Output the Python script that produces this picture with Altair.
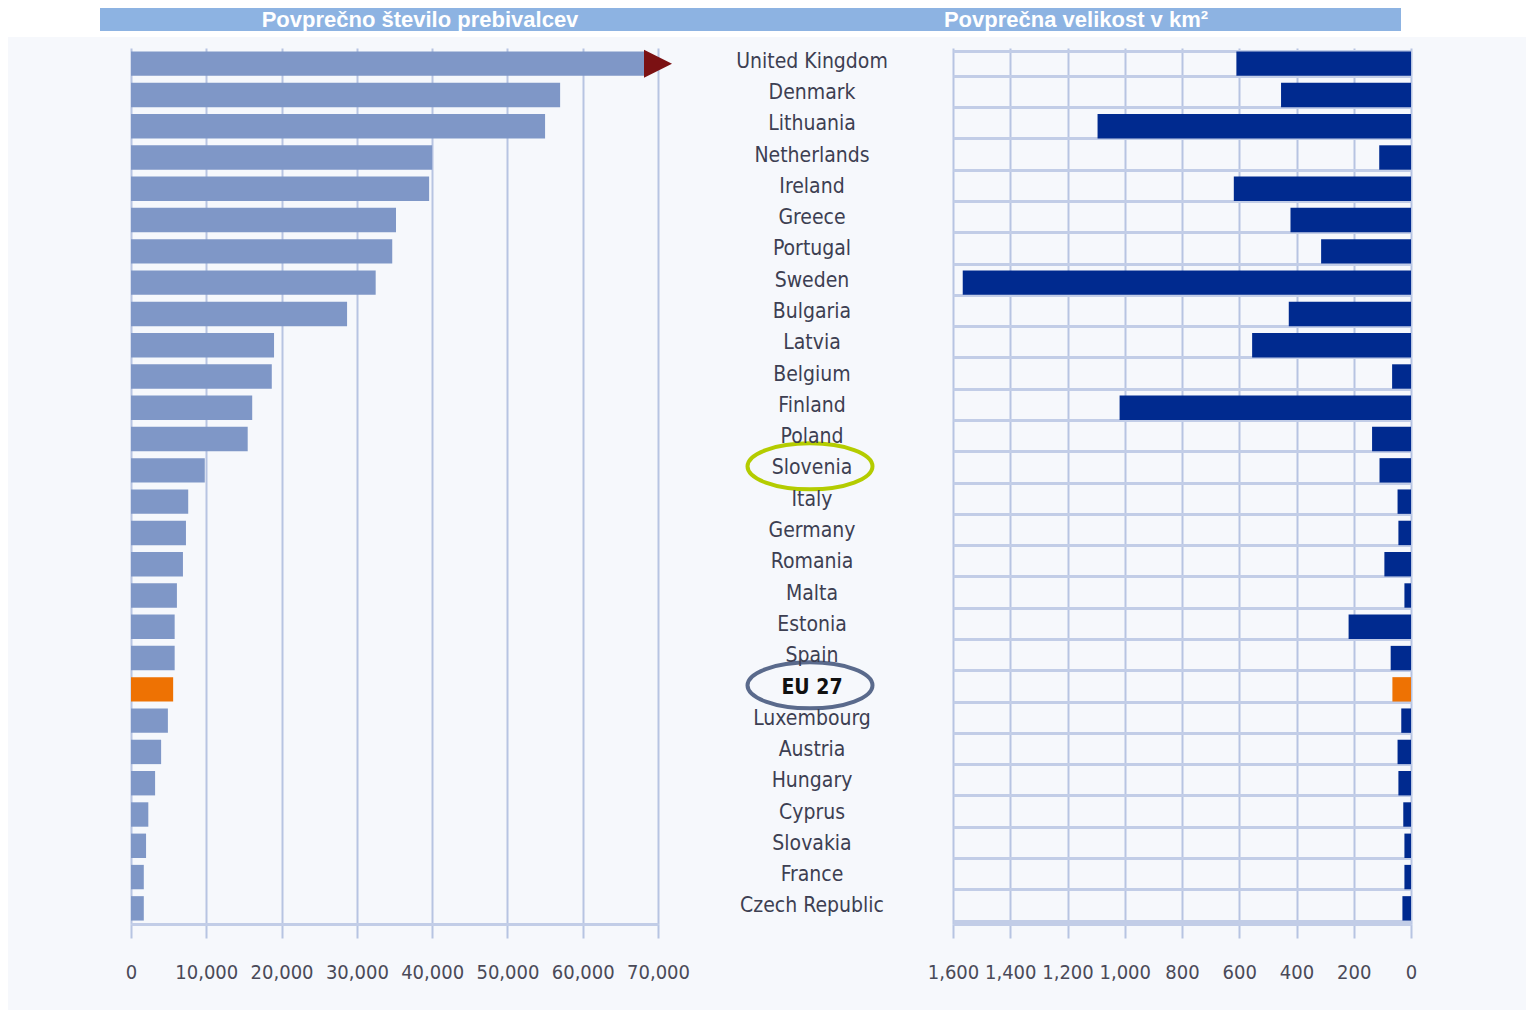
import altair as alt
import pandas as pd

countries = ["United Kingdom", "Denmark", "Lithuania", "Netherlands", "Ireland", "Greece",
             "Portugal", "Sweden", "Bulgaria", "Latvia", "Belgium", "Finland", "Poland",
             "Slovenia", "Italy", "Germany", "Romania", "Malta", "Estonia", "Spain", "EU 27",
             "Luxembourg", "Austria", "Hungary", "Cyprus", "Slovakia", "France", "Czech Republic"]
population = [68300, 57000, 55000, 40000, 39600, 35200, 34700, 32500, 28700, 19000, 18700,
              16100, 15500, 9800, 7600, 7300, 6900, 6100, 5800, 5800, 5600, 4900, 4000,
              3200, 2300, 2000, 1700, 1700]
area_km2 = [610, 454, 1095, 111, 619, 421, 314, 1566, 427, 555, 66, 1018, 136, 110, 47, 44,
            93, 23, 218, 71, 65, 34, 47, 44, 27, 23, 23, 30]
titles = ["Povprečno število prebivalcev", "Povprečna velikost v km²"]
pop_ticks = [0, 10000, 20000, 30000, 40000, 50000, 60000, 70000]
area_ticks = [0, 200, 400, 600, 800, 1000, 1200, 1400, 1600]
truncated = ["United Kingdom"]
highlight = ["Slovenia", "EU 27"]

df = pd.DataFrame({"country": countries, "pop": population, "area": area_km2})
df_arrow = pd.DataFrame({"country": truncated, "pop": [pop_ticks[-1]]})
df_hl = pd.DataFrame({"country": highlight})
one = pd.DataFrame({"a": [0]})

W_L, W_M, W_R, H = 527, 295, 458, 876
FONT_C = "'DejaVu Sans Condensed', 'Liberation Sans Narrow', sans-serif"
FONT_H = "'Liberation Sans', Arial, sans-serif"
GRID_H = "#c2cde7"
GRID_V = "#b7c4e2"
LABEL_C = "#4a4a58"

ysc = alt.Scale(domain=countries, paddingInner=0.22, paddingOuter=0.11)
y_grid = alt.Y("country:N", scale=ysc,
               axis=alt.Axis(title=None, labels=False, ticks=False, domain=False, grid=True,
                             tickBand="extent", gridColor=GRID_H, gridWidth=3))
y_none = alt.Y("country:N", scale=ysc, axis=None)


def xaxis(vals):
    return alt.Axis(values=vals, format=",d", title=None, grid=True, gridColor=GRID_V,
                    gridWidth=2, tickColor=GRID_V, tickWidth=2, tickSize=14,
                    domainColor=GRID_H, domainWidth=3, labelFont=FONT_C, labelFontSize=20,
                    labelColor=LABEL_C, labelPadding=24, labelFlush=False)


eu_cond = alt.datum.country == "EU 27"

left_bars = alt.Chart(df).mark_bar().encode(
    x=alt.X("pop:Q", scale=alt.Scale(domain=[0, 70000], nice=False), axis=xaxis(pop_ticks)),
    y=y_grid,
    color=alt.condition(eu_cond, alt.value("#ee7203"), alt.value("#7f97c7")),
)
arrow = alt.Chart(df_arrow).mark_point(
    shape="M -1 -1 L 1 0 L -1 1 Z", size=784, filled=True, opacity=1, color="#7b1113"
).encode(x=alt.X("pop:Q"), y=y_none)
left = alt.layer(left_bars, arrow).properties(width=W_L, height=H)

right = alt.Chart(df).mark_bar().encode(
    x=alt.X("area:Q", scale=alt.Scale(domain=[0, 1600], nice=False, reverse=True),
            axis=xaxis(area_ticks)),
    y=y_grid,
    color=alt.condition(eu_cond, alt.value("#ee7203"), alt.value("#002a8f")),
).properties(width=W_R, height=H)

labels = alt.Chart(df).transform_filter(~eu_cond).mark_text(
    font=FONT_C, fontSize=21, align="center", baseline="middle", dy=-2, color="#3d3f52"
).encode(x=alt.value(154), y=y_none, text="country:N")
labels_eu = alt.Chart(df).transform_filter(eu_cond).mark_text(
    font=FONT_C, fontSize=21, fontWeight="bold", align="center", baseline="middle", dy=-1,
    color="#111111"
).encode(x=alt.value(154), y=y_none, text="country:N")

ellipse = "M -1 0 A 1 0.368 0 1 1 1 0 A 1 0.368 0 1 1 -1 0 Z"
rings = alt.Chart(df_hl).mark_point(shape=ellipse, size=15625, filled=False, strokeWidth=4,
                                    opacity=1, yOffset=-4).encode(
    x=alt.value(152),
    y=y_none,
    color=alt.condition(alt.datum.country == "Slovenia", alt.value("#b4cc00"),
                        alt.value("#5a6a8c")),
)
white_strip = alt.Chart(one).mark_rect(color="white").encode(
    x=alt.value(-650), x2=alt.value(868), y=alt.value(-40), y2=alt.value(-11))
header_bar = alt.Chart(one).mark_rect(color="#8db3e2").encode(
    x=alt.value(-558), x2=alt.value(743), y=alt.value(-40), y2=alt.value(-17))
head1 = alt.Chart(one).mark_text(text=titles[0], font=FONT_H, fontWeight="bold",
                                 fontSize=22, color="white", align="center",
                                 baseline="middle").encode(
    x=alt.value(-238), y=alt.value(-28))
head2 = alt.Chart(one).mark_text(text=titles[1], font=FONT_H, fontWeight="bold",
                                 fontSize=22, color="white", align="center",
                                 baseline="middle").encode(
    x=alt.value(418), y=alt.value(-28))
middle = alt.layer(white_strip, header_bar, head1, head2, rings, labels, labels_eu).properties(
    width=W_M, height=H)

chart = alt.hconcat(left, middle, right, spacing=0, bounds="flush").properties(
    background="#f6f8fc",
    padding={"left": 0, "top": 0, "right": 0, "bottom": 28},
).configure_view(stroke=None)

chart.save("out.html", embed_options={"renderer": "svg", "actions": False})
